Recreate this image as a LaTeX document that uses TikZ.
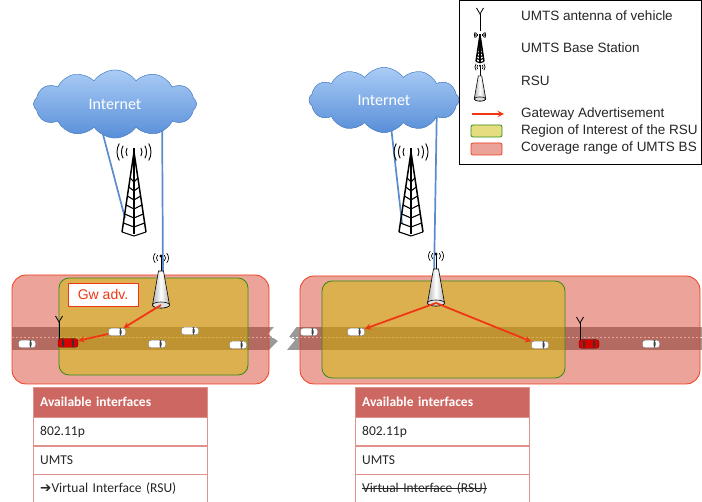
\documentclass[tikz,border=0pt]{standalone}
\usepackage{fontspec}
\setmainfont{Carlito}
\newfontfamily\arialfont{Liberation Sans}
\newfontfamily\symbolfont{DejaVu Sans}
\usetikzlibrary{shapes.geometric, shapes.symbols, arrows, positioning}

\newcommand{\strikeout}[1]{\setbox0\hbox{#1}\rlap{\rule[0.3em]{\wd0}{0.7pt}}\box0}

\definecolor{covred}{RGB}{210,50,30}
\definecolor{covedge}{RGB}{240,60,30}
\definecolor{roigold}{RGB}{206,189,4}
\definecolor{roiedge}{RGB}{50,140,20}
\definecolor{advred}{RGB}{240,55,20}
\definecolor{linkblue}{RGB}{90,140,205}
\definecolor{cloudtop}{RGB}{170,204,246}
\definecolor{cloudbot}{RGB}{88,142,216}
\definecolor{cloudedge}{RGB}{80,130,195}
\definecolor{headred}{RGB}{205,103,98}
\definecolor{rowedge}{RGB}{225,145,140}
\definecolor{roadgray}{RGB}{153,153,153}

\tikzstyle{coverage} = [draw=covedge, thick, fill=covred, fill opacity=0.45, rounded corners=14pt]
\tikzstyle{roi} = [draw=roiedge, thick, fill=roigold, fill opacity=0.5, rounded corners=10pt]
\tikzstyle{link} = [draw=linkblue, line width=1.7pt]
\tikzstyle{gwarrow} = [draw=advred, line width=1.8pt, ->, >=stealth]
\tikzstyle{internet} = [cloud, cloud puffs=12, cloud puff arc=110, aspect=2.4, draw=cloudedge, top color=cloudtop, bottom color=cloudbot, text=white, font=\fontsize{16}{16}\selectfont, inner sep=0pt, minimum width=163pt, minimum height=68pt]
\tikzstyle{car} = [rectangle, rounded corners=2.5pt, draw=gray, fill=white, minimum width=17pt, minimum height=7.5pt, inner sep=0pt, path picture={\fill[black!75] ([xshift=-4pt]path picture bounding box.north east) rectangle ([xshift=-6pt]path picture bounding box.south east);}]
\tikzstyle{vehicle} = [rectangle, rounded corners=2.5pt, draw=red!40!black, fill=red!85!black, minimum width=20pt, minimum height=8.5pt, inner sep=0pt, path picture={\fill[black!80] ([xshift=4pt]path picture bounding box.north west) rectangle ([xshift=6pt]path picture bounding box.south west); \fill[black!80] ([xshift=-4pt]path picture bounding box.north east) rectangle ([xshift=-6pt]path picture bounding box.south east);}]
\tikzstyle{advbox} = [rectangle, draw=advred, line width=0.9pt, fill=white, text=advred, font=\arialfont\fontsize{14}{14}\selectfont, minimum width=70pt, minimum height=23pt]
\tikzstyle{ifhead} = [rectangle, draw=rowedge, fill=headred, text=white, font=\fontsize{13.5}{15}\selectfont\bfseries, minimum height=30pt, text width=160pt, inner xsep=7pt, align=left]
\tikzstyle{ifrow} = [rectangle, draw=rowedge, fill=white, text=black!85, font=\fontsize{13.5}{15}\selectfont, minimum height=28pt, text width=160pt, inner xsep=7pt, align=left]
\tikzstyle{legtext} = [anchor=west, inner sep=0pt, text=black!85, font=\arialfont\fontsize{13.5}{13.5}\selectfont]

\tikzset{
  bstower/.pic={
    \draw[line width=1.5pt, line join=round] (-12,80) -- (0,0) -- (12,80);
    \draw[line width=1.2pt] (0,-4) -- (0,82);
    \foreach \t in {26,35,44,53,62,71,80}
      \draw[line width=1.1pt] ({-\t*0.15},\t) -- (0,{\t+4}) -- ({\t*0.15},\t);
    \foreach \r in {8,12.5,17} {
      \draw[line width=0.9pt] (0,0) ++(150:\r) arc[start angle=150, end angle=210, radius=\r];
      \draw[line width=0.9pt] (0,0) ++(-30:\r) arc[start angle=-30, end angle=30, radius=\r];
    }
  },
  rsu/.pic={
    \draw[line width=1pt] (0,-33) -- (0,-48);
    \fill (0,-49) circle[radius=1.6];
    \foreach \r in {4.5,7.5} {
      \draw[line width=0.7pt] (0,-47) ++(140:\r) arc[start angle=140, end angle=220, radius=\r];
      \draw[line width=0.7pt] (0,-47) ++(-40:\r) arc[start angle=-40, end angle=40, radius=\r];
    }
    \draw[left color=gray!60, right color=gray!60, middle color=white, line width=0.6pt]
      (-2.5,-34) -- (-8.5,0) arc[start angle=180, end angle=0, x radius=8.5, y radius=3] -- (2.5,-34) -- cycle;
    \draw[fill=gray!25, line width=0.6pt] (0,0) ellipse[x radius=8.5, y radius=3];
  },
  antenna/.pic={
    \draw[line width=0.9pt] (0,0) -- (0,-17);
    \draw[line width=0.8pt] (-3.5,-23) -- (0,-17) -- (3.5,-23);
  }
}

\begin{document}
\begin{tikzpicture}[x=1pt, y=-1pt]
\useasboundingbox (0,0) rectangle (702,502);

% ---------------------------------------------
% Road with its broken stretch
% ---------------------------------------------
\fill[roadgray] (12,327) rectangle (702,350);
\draw[white, line width=1pt, dash pattern=on 2pt off 2pt] (12,338) -- (702,338);
\fill[white] (275,326) -- (297,326) -- (289,337) -- (295,340) -- (286,351) -- (268,351) -- (278,341) -- (268,334) -- cycle;

% ---------------------------------------------
% Coverage of the base stations and regions of the RSUs
% ---------------------------------------------
\draw[coverage] (12,275) rectangle (269,384);
\draw[roi] (59,278) rectangle (248,375);
\draw[coverage] (300,276) rectangle (700,384);
\draw[roi] (322,281) rectangle (565,378);

% ---------------------------------------------
% Left Division
% ---------------------------------------------
\coordinate (bsL) at (134,152);
\coordinate (legL) at (125,218);
\coordinate (mastL) at (163,276);
\coordinate (rsuL) at (161,305);

\node[internet] (cloudL) at (115,104) {};
\draw[link] ([xshift=-20pt]cloudL.center) -- (legL);
\draw[link] ([xshift=47pt]cloudL.center) -- (mastL);
\node[internet] at (cloudL) {Internet};
\pic at (bsL) {bstower};

\node[car] (carL1) at (117,332) {};
\node[car] (carL2) at (190,331) {};
\node[car] (carL3) at (157,344) {};
\node[car] (carL4) at (238,345) {};
\node[car] (carL5) at (27,344) {};
\node[vehicle] (vehL) at (68,343) {};
\pic at (59,339) {antenna};

\pic at (rsuL) {rsu};
\node[advbox] (gwadv) at (103,294.5) {Gw adv.};

\draw[gwarrow] (rsuL) -- (carL1);
\draw[gwarrow] (carL1) -- (vehL);

% ---------------------------------------------
% Right Division
% ---------------------------------------------
\coordinate (bsR) at (411,152);
\coordinate (legR) at (402,223);
\coordinate (mastR) at (434,278);
\coordinate (rsuR) at (436,303);

\node[internet, minimum width=150pt, minimum height=65pt] (cloudR) at (384,100) {};
\draw[link] ([xshift=4pt]cloudR.center) -- (legR);
\draw[link] ([xshift=53pt]cloudR.center) -- (mastR);
\node[internet, minimum width=150pt, minimum height=65pt] at (cloudR) {Internet};
\pic at (bsR) {bstower};

\node[car] (carR1) at (309,332) {};
\node[car] (carR2) at (356,332) {};
\node[car] (carR3) at (540,345) {};
\node[car] (carR4) at (651,344) {};
\node[vehicle] (vehR) at (589,344) {};
\pic at (580,340) {antenna};

\pic at (rsuR) {rsu};

\draw[gwarrow] (rsuR) -- (carR2);
\draw[gwarrow] (rsuR) -- (carR3);

% ---------------------------------------------
% Interface tables
% ---------------------------------------------
\node[ifhead, anchor=north west] (headL) at (33,387) {Available interfaces};
\node[ifrow, below=0pt of headL] (wifiL) {802.11p};
\node[ifrow, below=0pt of wifiL] (umtsL) {UMTS};
\node[ifrow, below=0pt of umtsL] (virtL) {{\symbolfont ➔}Virtual Interface (RSU)};

\node[ifhead, anchor=north west] (headR) at (355,387) {Available interfaces};
\node[ifrow, below=0pt of headR] (wifiR) {802.11p};
\node[ifrow, below=0pt of wifiR] (umtsR) {UMTS};
\node[ifrow, below=0pt of umtsR] (virtR) {\strikeout{Virtual Interface (RSU)}};

% ---------------------------------------------
% Legend
% ---------------------------------------------
\draw[fill=white, line width=0.8pt] (459,0.5) rectangle (701.5,164);
\pic at (480,31) {antenna};
\pic[scale=0.33] at (480,35) {bstower};
\pic[scale=0.68] at (480,99) {rsu};
\coordinate (lgA) at (472,114);
\coordinate (lgB) at (504,114);
\draw[gwarrow] (lgA) -- (lgB);
\draw[roi, rounded corners=2pt] (471,125) rectangle (502,137);
\draw[coverage, rounded corners=2pt] (471,143) rectangle (502,155);

\node[legtext] (lgant) at (521,16) {UMTS antenna of vehicle};
\node[legtext] (lgbs) at (521,48) {UMTS Base Station};
\node[legtext] (lgrsu) at (521,81) {RSU};
\node[legtext] (lgadv) at (521,114) {Gateway Advertisement};
\node[legtext] (lgroi) at (521,131) {Region of Interest of the RSU};
\node[legtext] (lgcov) at (521,148) {Coverage range of UMTS BS};
\end{tikzpicture}
\end{document}
